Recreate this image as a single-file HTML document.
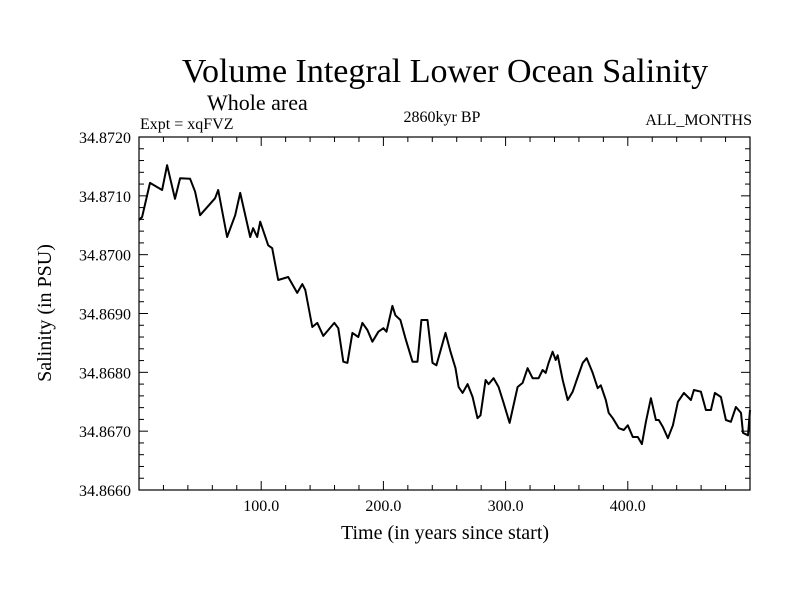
<!DOCTYPE html>
<html><head><meta charset="utf-8"><style>
body{margin:0;background:#fff}
svg text{font-family:"Liberation Serif",serif;fill:#000}
</style></head><body>
<svg id="chart" width="800" height="600">
<text x="445" y="82" font-size="34" text-anchor="middle">Volume Integral Lower Ocean Salinity</text>
<text x="207" y="110" font-size="22">Whole area</text>
<text x="140" y="129" font-size="16">Expt = xqFVZ</text>
<text x="442" y="122" font-size="16" text-anchor="middle">2860kyr BP</text>
<text x="752" y="125" font-size="16" text-anchor="end">ALL_MONTHS</text>
<text x="445" y="539" font-size="20" text-anchor="middle">Time (in years since start)</text>
<text x="0" y="0" font-size="20" text-anchor="middle" transform="translate(51,313) rotate(-90)">Salinity (in PSU)</text>
<rect x="139" y="137" width="611" height="353" fill="none" stroke="#000" stroke-width="1.2"/>
<g id="ticks"></g>
<path id="line" fill="none" stroke="#000" stroke-width="2" stroke-linejoin="round"/>
</svg>
<script>
const years=[0,2.5,9,18.9,23,29.5,33.6,41.8,45.9,50,62.3,64.8,72.1,78.7,82.8,91,93.4,96.7,99.2,105.7,109,113.9,122.1,129.5,133.6,136.1,141.8,145.9,150.8,159.8,163.1,167.2,170.5,174.6,179.5,182.8,186.9,191,195.9,200,202.5,207.4,209.8,213.9,218,223.8,227.9,231.1,236.1,240.2,243.4,250.8,254.9,259,261.5,264.8,268.9,273,277,279.5,283.6,286.1,290.2,294.3,298.4,303.3,309.8,313.9,318,322.1,327,330.3,332.8,335.2,338.5,341,342.6,346.7,350.8,354.9,358.2,363.1,366.4,371.3,375.4,377.9,382,384.4,387.7,392.6,396.7,400,404.1,408.2,411.5,414.8,418.9,423,425.4,428.7,432.8,436.9,441,445.9,451.6,454.1,459.8,463.9,468,471.3,476.2,480.3,484.4,488.5,492.6,494.3,498.4,500];
const salinity=[34.87059,34.87064,34.87122,34.87110,34.87152,34.87095,34.87130,34.87129,34.87107,34.87067,34.87096,34.87110,34.87030,34.87067,34.87105,34.87030,34.87045,34.87030,34.87056,34.87016,34.87011,34.86957,34.86962,34.86935,34.86950,34.86940,34.86877,34.86884,34.86862,34.86884,34.86875,34.86818,34.86816,34.86867,34.86860,34.86884,34.86872,34.86852,34.86869,34.86875,34.86869,34.86913,34.86897,34.86889,34.86858,34.86818,34.86818,34.86889,34.86889,34.86816,34.86812,34.86867,34.86835,34.86807,34.86775,34.86765,34.86780,34.86758,34.86722,34.86727,34.86787,34.86780,34.86790,34.86775,34.86748,34.86714,34.86775,34.86782,34.86807,34.86790,34.86790,34.86804,34.86799,34.86816,34.86835,34.86821,34.86829,34.86787,34.86753,34.86767,34.86787,34.86816,34.86824,34.86799,34.86773,34.86778,34.86753,34.86731,34.86722,34.86705,34.86702,34.86710,34.86690,34.86690,34.86678,34.86716,34.86756,34.86719,34.86719,34.86707,34.86688,34.86710,34.86750,34.86765,34.86753,34.86770,34.86767,34.86736,34.86736,34.86765,34.86758,34.86719,34.86716,34.86741,34.86731,34.86697,34.86693,34.86736];
const xTicks=[100,200,300,400];
const xTickLabels=["100.0","200.0","300.0","400.0"];
const yTicks=[34.866,34.867,34.868,34.869,34.870,34.871,34.872];
const yTickLabels=["34.8660","34.8670","34.8680","34.8690","34.8700","34.8710","34.8720"];
const X0=139,X1=750,Y0=490,Y1=137,XMIN=0,XMAX=500,YMIN=34.866,YMAX=34.872;
const sx=v=>X0+(v-XMIN)/(XMAX-XMIN)*(X1-X0);
const sy=v=>Y0-(v-YMIN)/(YMAX-YMIN)*(Y0-Y1);
const NS='http://www.w3.org/2000/svg';
const g=document.getElementById('ticks');
function ln(x1,y1,x2,y2,name){const l=document.createElementNS(NS,'line');
l.setAttribute('x1',x1);l.setAttribute('y1',y1);l.setAttribute('x2',x2);l.setAttribute('y2',y2);
l.setAttribute('stroke','#000');l.setAttribute('stroke-width','1');


g.appendChild(l);}
function tx(x,y,s,anchor,name){const t=document.createElementNS(NS,'text');
t.setAttribute('x',x);t.setAttribute('y',y);t.setAttribute('font-size','16');t.setAttribute('text-anchor',anchor);t.textContent=s;


g.appendChild(t);}
for(let v=20;v<XMAX;v+=20){const x=sx(v);const L=(v%100===0)?9:5;
ln(x,Y0,x,Y0-L,'x-tick');ln(x,Y1,x,Y1+L,'x-tick-top');}
for(let i=0;i<=30;i++){const v=YMIN+i*0.0002;const y=sy(v);const L=(i%5===0)?9:5;
ln(X0,y,X0+L,y,'y-tick');ln(X1,y,X1-L,y,'y-tick-right');}
xTicks.forEach((v,i)=>tx(sx(v),511,xTickLabels[i],'middle','x-tick-label'));
yTicks.forEach((v,i)=>tx(131,sy(v)+6,yTickLabels[i],'end','y-tick-label'));
document.getElementById('line').setAttribute('d',years.map((v,i)=>(i?'L':'M')+sx(v).toFixed(1)+','+sy(salinity[i]).toFixed(1)).join(''));
</script>
</body></html>
